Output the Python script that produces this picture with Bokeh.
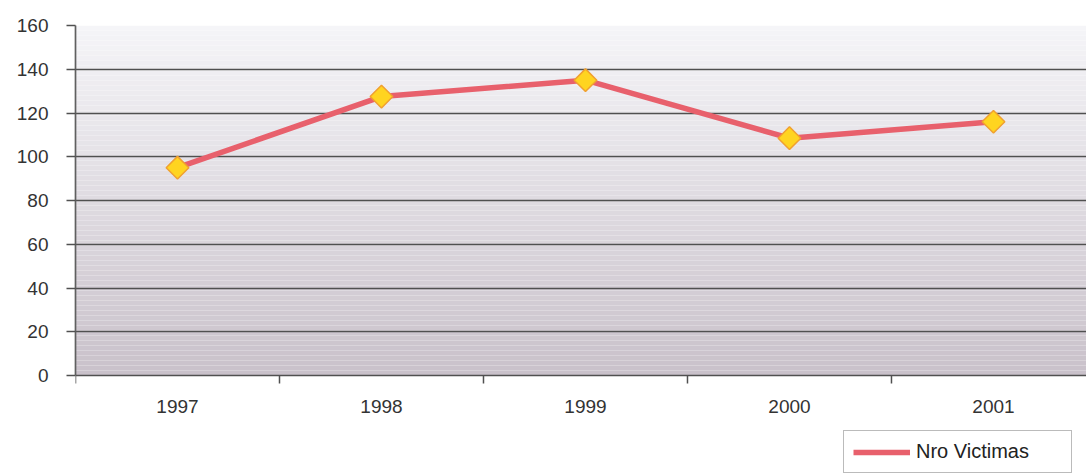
from bokeh.plotting import figure
from bokeh.models import Range1d, FixedTicker, Legend, LegendItem
from bokeh.embed import file_html
from bokeh.resources import INLINE
from bokeh.core.properties import value
import numpy as np

# Data
years = ["1997", "1998", "1999", "2000", "2001"]
victimas = [95, 127.5, 135, 108.5, 116]
y_ticks = [0, 20, 40, 60, 80, 100, 120, 140, 160]
series_name = "Nro Victimas"

FONT = "Liberation Sans"
xs = [i + 0.5 for i in range(len(years))]
bounds = list(range(len(years) + 1))

FRAME_H = 449          # frame from y=25 to y=474
PLOT_H = 350           # pixels used by 0..160
ppu = PLOT_H / 160.0   # pixels per unit
y_low = -(FRAME_H - PLOT_H) / ppu

p = figure(width=1086, height=474, output_backend="svg", toolbar_location=None,
           x_range=Range1d(0, 4.956), y_range=Range1d(y_low, 160),
           min_border_left=75, min_border_top=25, min_border_right=0, min_border_bottom=0)
p.outline_line_color = None
p.background_fill_color = "white"
p.border_fill_color = "white"
p.xaxis.visible = False

# gradient background (decoration) only over the 0..160 area
n = 70
edges = np.linspace(0, 160, n + 1)
top_c = np.array([245, 245, 248])
bot_c = np.array([201, 193, 202])
cols = []
for k in range(n):
    t = (k + 0.5) / n
    c = bot_c + (top_c - bot_c) * t
    cols.append("#%02x%02x%02x" % tuple(int(round(v)) for v in c))
p.quad(left=0, right=6, bottom=edges[:-1], top=edges[1:] + 0.01, fill_color=cols,
       line_color=None, level="image")

# grid (the 0 line doubles as the category axis line)
p.xgrid.grid_line_color = None
p.ygrid.ticker = FixedTicker(ticks=y_ticks)
p.ygrid.grid_line_color = "#505050"
p.ygrid.grid_line_width = 1.7

# y axis
p.yaxis.ticker = FixedTicker(ticks=y_ticks)
p.yaxis.bounds = (0, 160)
p.yaxis.axis_line_color = "#606060"
p.yaxis.axis_line_width = 1.7
p.yaxis.major_tick_out = 9
p.yaxis.major_tick_in = 0
p.yaxis.major_tick_line_color = "#505050"
p.yaxis.major_tick_line_width = 1.5
p.yaxis.minor_tick_line_color = None
p.yaxis.major_label_standoff = 18
p.yaxis.major_label_text_font = FONT
p.yaxis.major_label_text_font_size = "19px"
p.yaxis.major_label_text_color = "#333333"

# category axis: boundary ticks and labels
p.segment(x0=bounds, y0=[0] * len(bounds), x1=bounds, y1=[-8 / ppu] * len(bounds),
          line_color="#505050", line_width=1.5)
p.text(x=xs, y=[-31 / ppu] * len(xs), text=years, text_font=value(FONT),
       text_font_size="19px", text_color="#333333", text_align="center",
       text_baseline="middle")

# series
ln = p.line(xs, victimas, line_color="#e8606c", line_width=5.5)
sc = p.scatter(xs, victimas, marker="square", angle=np.pi / 4, size=16, fill_color="#ffd420",
               line_color="#f0a030", line_width=1.5)
sc_leg = p.scatter(x=[], y=[], marker="diamond", size=18, fill_color="#ffd420",
                   line_color="#f0a030", line_width=1.5)

legend = Legend(items=[LegendItem(label=series_name, renderers=[ln, sc_leg])],
                location=(768, 1), orientation="horizontal",
                label_text_font=FONT, label_text_font_size="20px", label_text_color="#222222",
                border_line_color="#777777", border_line_width=1.5,
                glyph_width=57, glyph_height=22, label_height=20, label_width=146,
                padding=9, spacing=0, margin=0, label_standoff=6,
                background_fill_color="white")
p.add_layout(legend, "center")

open("out.html", "w").write(file_html(p, INLINE))
